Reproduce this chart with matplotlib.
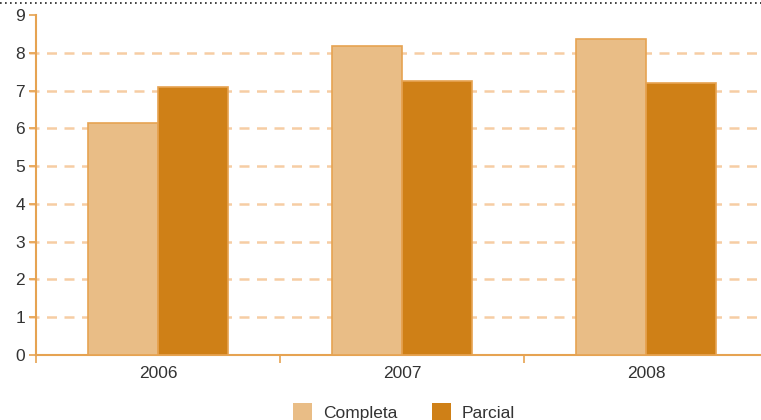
import matplotlib.pyplot as plt
import numpy as np
from matplotlib.lines import Line2D
from matplotlib.patches import Patch

years = ['2006', '2007', '2008']
completa = [6.15, 8.18, 8.36]
parcial = [7.1, 7.25, 7.2]

c_light = '#E9BD86'
c_dark = '#CF8017'
c_axis = '#E6A352'
c_grid = '#F6CDA4'

plt.rcParams['font.family'] = ['Liberation Sans', 'DejaVu Sans']

fig = plt.figure(figsize=(7.61, 4.2), dpi=100)
ax = fig.add_axes([36 / 761, 65 / 420, 1 - 36 / 761, 340 / 420])

x = np.arange(len(years))
w = 0.287
ax.bar(x - w / 2, completa, w, color=c_light, edgecolor=c_axis, linewidth=1.2, zorder=3)
ax.bar(x + w / 2, parcial, w, color=c_dark, edgecolor=c_axis, linewidth=1.2, zorder=3)

ax.set_xlim(-0.5, 2.47)
ax.set_ylim(0, 9)
ax.set_yticks(range(0, 10))
for yv in range(1, 9):
    ax.axhline(yv, color=c_grid, linestyle=(0, (4, 3)), linewidth=1.8, zorder=1, xmin=-0.01, clip_on=False)

for s in ['top', 'right']:
    ax.spines[s].set_visible(False)
for s in ['left', 'bottom']:
    ax.spines[s].set_color(c_axis)
    ax.spines[s].set_linewidth(1.5)

ax.set_xticks([-0.5, 0.5, 1.5], minor=False)
ax.set_xticklabels([])
ax.set_xticks(x, minor=True)
ax.set_xticklabels(years, minor=True)
ax.tick_params(axis='x', which='major', length=6, color=c_axis, width=1.2)
ax.tick_params(axis='x', which='minor', length=0, labelsize=12.5, labelcolor='#333333', pad=8)
ax.tick_params(axis='y', length=5, color=c_axis, width=1.2, labelsize=12.5, labelcolor='#333333', pad=3)

handles = [Patch(facecolor=c_light, edgecolor='none', label='Completa'),
           Patch(facecolor=c_dark, edgecolor='none', label='Parcial')]
fig.legend(handles=handles, loc='center', bbox_to_anchor=(404 / 761, 8 / 420), ncol=2,
           frameon=False, fontsize=12.5, handlelength=1.1, handleheight=1.1,
           columnspacing=2.0, handletextpad=0.6, labelcolor='#333333')

fig.add_artist(Line2D([0, 1], [1 - 3 / 420, 1 - 3 / 420], transform=fig.transFigure,
                      color='#222222', linestyle=(0, (1, 2)), linewidth=1.2))

fig.savefig('out.png', dpi=100)
